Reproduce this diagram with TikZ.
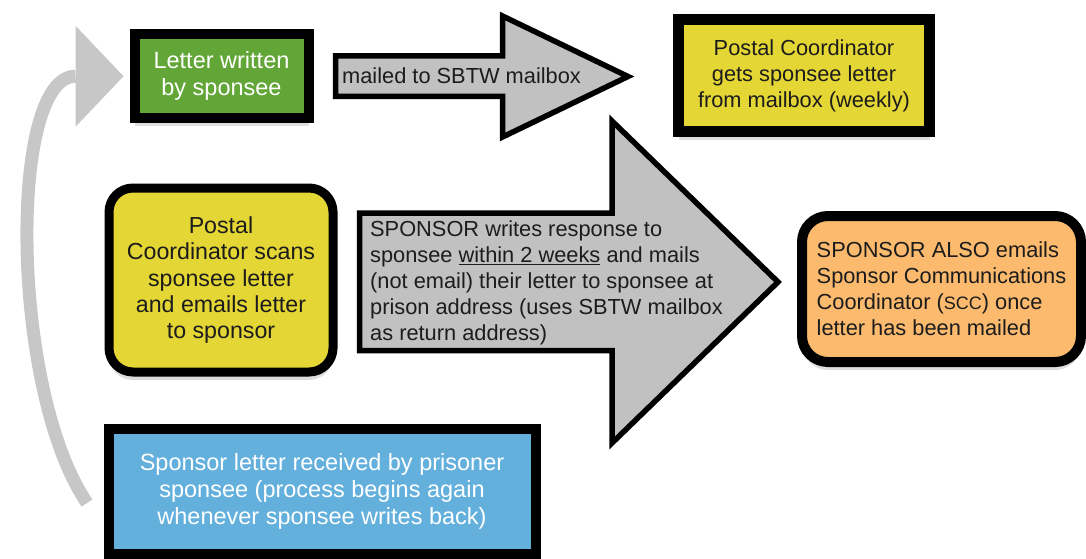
\documentclass[tikz,border=0pt]{standalone}
\usepackage{fontspec}
\setmainfont{Liberation Sans}
\usetikzlibrary{shadows}
\definecolor{boxgreen}{RGB}{98,166,56}
\definecolor{boxyellow}{RGB}{228,214,52}
\definecolor{boxorange}{RGB}{251,186,110}
\definecolor{boxblue}{RGB}{100,176,221}
\definecolor{arrowgray}{RGB}{193,193,193}
\definecolor{loopgray}{RGB}{199,199,199}
\definecolor{darktext}{RGB}{28,28,28}
\newcommand{\setfs}[2]{\fontsize{#1}{#2}\selectfont}
\begin{document}
\begin{tikzpicture}[x=1pt,y=-1pt,
  box/.style={draw=black, line width=10pt, align=center, inner sep=0pt, text=darktext,
    drop shadow={shadow xshift=0pt, shadow yshift=-8pt, opacity=0.13, fill=black}},
  darkfont/.style={font=\setfs{21.8pt}{26pt}},
  whitefont/.style={font=\setfs{23.5pt}{27pt}, text=white},
  blockarrow/.style={draw=black, fill=arrowgray, line width=5.5pt, line join=miter},
  arrowlabel/.style={inner sep=0pt, align=left, text=darktext, font=\setfs{21.8pt}{26pt}},
  loopline/.style={draw=loopgray, line width=13pt},
]
\useasboundingbox (0,0) rectangle (1086,559);

% boxes
\node[box, fill=boxgreen, whitefont, minimum width=174pt, minimum height=83.5pt]
  (green) at (221.5,76.25) {Letter written\\by sponsee};
\node[box, fill=boxyellow, darkfont, line width=11pt, minimum width=251pt, minimum height=112pt]
  (collect) at (804,75.5) {Postal Coordinator\\gets sponsee letter\\from mailbox (weekly)};
\node[box, fill=boxyellow, line width=9pt, font=\setfs{23.2pt}{26.2pt}, rounded corners=24pt,
  minimum width=224pt, minimum height=184pt]
  (scan) at (221,280) {Postal\\Coordinator scans\\sponsee letter\\and emails letter\\to sponsor};
\node[box, fill=boxorange, darkfont, align=left, rounded corners=26pt,
  minimum width=279pt, minimum height=146pt]
  (scc) at (941.5,289) {SPONSOR ALSO emails\\Sponsor Communications\\Coordinator ({\setfs{18pt}{26pt}SCC}) once\\letter has been mailed};
\node[box, fill=boxblue, whitefont, minimum width=427pt, minimum height=124.5pt]
  (recv) at (322,491.25) {Sponsor letter received by prisoner\\sponsee (process begins again\\whenever sponsee writes back)};

% block arrows
\draw[blockarrow] (335.5,56) -- (502.5,56) -- (502.5,16) -- (628,76.5) -- (502.5,137)
  -- (502.5,96.5) -- (335.5,96.5) -- cycle;
\node[arrowlabel, anchor=west] (mail) at (342,76) {mailed to SBTW mailbox};

\draw[blockarrow] (359.5,213) -- (612,213) -- (612,121) -- (778,282) -- (612,443)
  -- (612,350.5) -- (359.5,350.5) -- cycle;
\node[arrowlabel, anchor=west] (respond) at (370,282.5)
  {SPONSOR writes response to\\sponsee \underline{within 2 weeks} and mails\\(not email) their letter to sponsee at\\prison address (uses SBTW mailbox\\as return address)};

% loop-back arrow
\coordinate (loopstart) at (87,503);
\coordinate (headbase) at ([xshift=-54pt]green.west);
\coordinate (headtip) at ([xshift=-6pt]green.west);
\draw[loopline] (loopstart) .. controls (10,390) and (8,76) .. (headbase);
\fill[loopgray] ([yshift=-50.5pt]headbase) -- (headtip) -- ([yshift=50.5pt]headbase) -- cycle;
\end{tikzpicture}
\end{document}
